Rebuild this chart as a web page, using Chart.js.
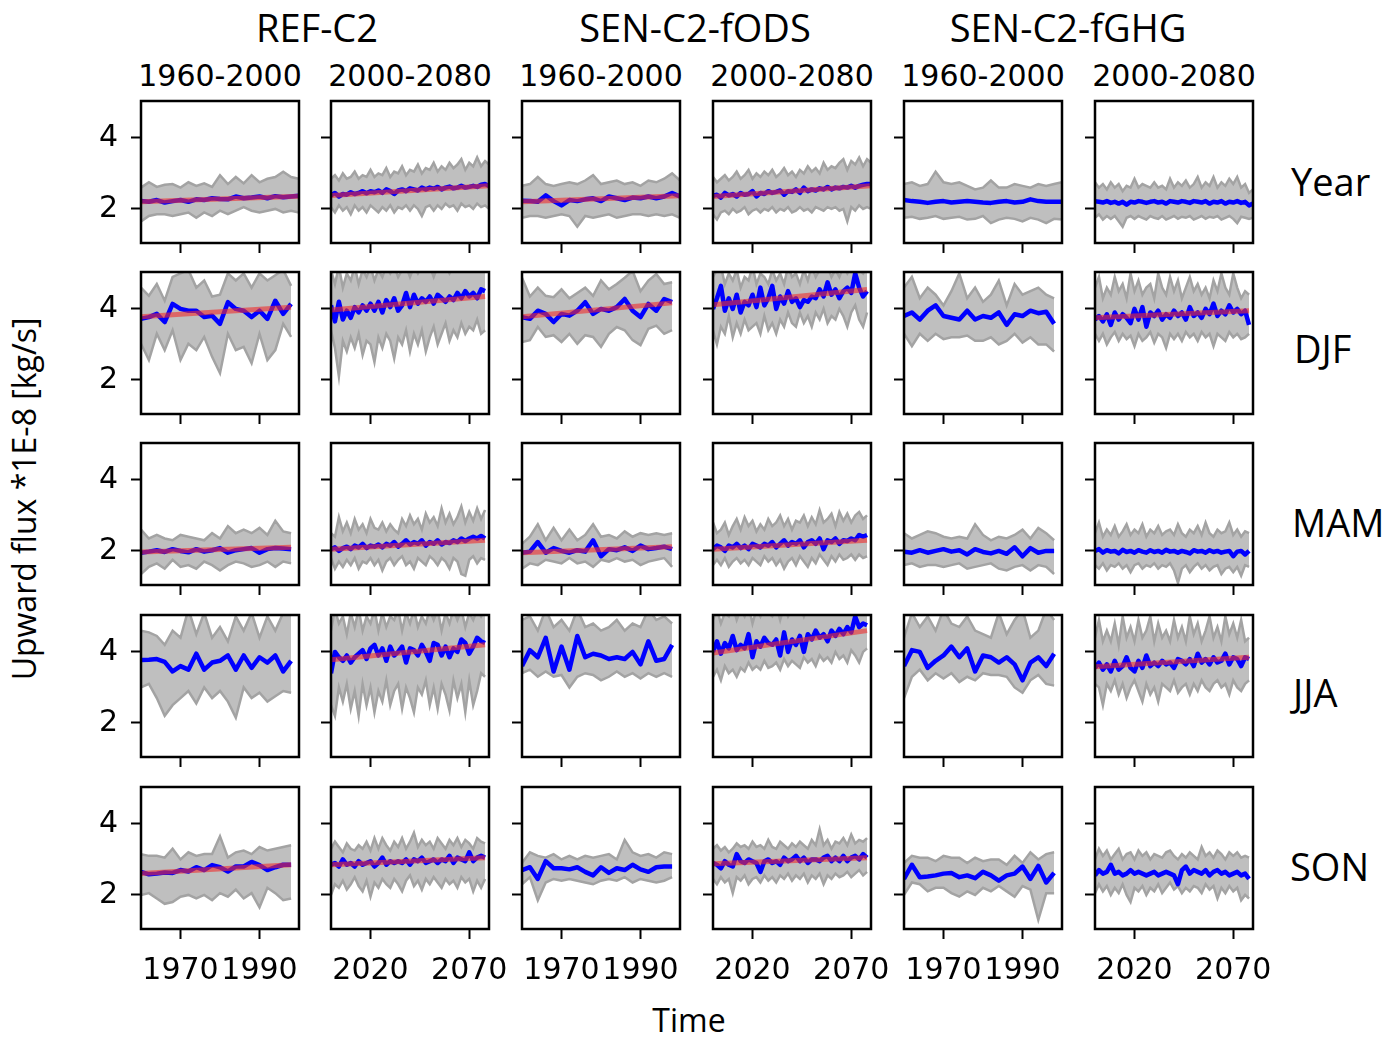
<!DOCTYPE html>
<html>
<head>
<meta charset="utf-8">
<script src="https://cdn.jsdelivr.net/npm/chart.js@4.4.1/dist/chart.umd.min.js"></script>
<style>
    body { margin: 0; width: 1399px; height: 1039px; background: #fff; position: relative; overflow: hidden; }
    canvas { position: absolute; }
    .lbl { position: absolute; white-space: nowrap; color: #000; line-height: 1; font-family: 'Open Sans', sans-serif; }
    .grp { font-size: 38px; transform: translate(-50%, -50%); }
    .per { font-family: 'DejaVu Sans', sans-serif; font-size: 30px; transform: translate(-50%, -50%); }
    .row { font-size: 38px; transform: translateY(-50%); }
    .axis { font-size: 32px; transform: translate(-50%, -50%); }
</style>
</head>
<body>
<div class="lbl grp" style="left:317px; top:27px">REF-C2</div>
<div class="lbl grp" style="left:695px; top:27px">SEN-C2-fODS</div>
<div class="lbl grp" style="left:1068px; top:27px">SEN-C2-fGHG</div>
<div id="periods"></div>
<div class="lbl row" style="left:1291px; top:181px">Year</div>
<div class="lbl row" style="left:1294px; top:348px">DJF</div>
<div class="lbl row" style="left:1292px; top:522px">MAM</div>
<div class="lbl row" style="left:1293px; top:692px">JJA</div>
<div class="lbl row" style="left:1290px; top:866px">SON</div>
<div class="lbl axis" style="left:689px; top:1020px">Time</div>
<div class="lbl axis" style="left:24px; top:499px; transform: translate(-50%, -50%) rotate(-90deg)">Upward flux *1E-8 [kg/s]</div>

<script>
const periodLabels = ['1960-2000', '2000-2080'];
const yTicks = [2, 4];
const xTicksPast = [1970, 1990];
const xTicksFut = [2020, 2070];

const yearsPastAnn = [1960,1962,1964,1966,1968,1970,1972,1974,1976,1978,1980,1982,1984,1986,1988,1990,1992,1994,1996,1998,2000];
const yearsPastSeas = [1960,1962,1964,1966,1968,1970,1972,1974,1976,1978,1980,1982,1984,1986,1988,1990,1992,1994,1996,1998];
const yearsFutAnn = [2000,2002,2004,2006,2008,2010,2012,2014,2016,2018,2020,2022,2024,2026,2028,2030,2032,2034,2036,2038,2040,2042,2044,2046,2048,2050,2052,2054,2056,2058,2060,2062,2064,2066,2068,2070,2072,2074,2076,2078,2080];
const yearsFutSeas = [2000,2002,2004,2006,2008,2010,2012,2014,2016,2018,2020,2022,2024,2026,2028,2030,2032,2034,2036,2038,2040,2042,2044,2046,2048,2050,2052,2054,2056,2058,2060,2062,2064,2066,2068,2070,2072,2074,2076,2078];

// Year
const yearRefPastMean = [2.22,2.2,2.25,2.18,2.22,2.25,2.2,2.27,2.25,2.3,2.28,2.27,2.35,2.3,2.32,2.35,2.3,2.36,2.33,2.35,2.37];
const yearRefPastLo = [1.65,1.8,1.85,1.85,1.8,1.85,1.9,1.75,1.9,1.8,1.95,1.85,1.95,2.05,1.95,1.9,1.95,2.0,1.9,1.95,1.9];
const yearRefPastHi = [2.6,2.75,2.62,2.68,2.7,2.6,2.75,2.65,2.72,2.62,2.95,2.7,2.9,2.72,2.95,2.75,2.85,2.9,3.05,2.9,2.85];
const yearRefPastTrend = [2.2, 2.36];
const yearRefFutMean = [2.38,2.45,2.35,2.42,2.4,2.47,2.42,2.45,2.5,2.44,2.5,2.47,2.52,2.45,2.55,2.5,2.42,2.52,2.55,2.5,2.58,2.55,2.52,2.6,2.55,2.6,2.57,2.62,2.55,2.6,2.63,2.58,2.6,2.65,2.6,2.62,2.65,2.62,2.68,2.7,2.65];
const yearRefFutLo = [2.05,1.9,2.1,1.95,2.05,1.85,2.1,1.95,2.05,1.9,2.1,2.0,1.9,2.05,1.95,2.1,1.9,2.05,2.0,2.1,1.95,2.1,2.0,1.8,2.05,2.1,1.95,2.1,2.0,2.15,2.05,2.1,1.95,2.15,2.05,2.1,2.0,2.15,2.05,2.1,2.0];
const yearRefFutHi = [2.85,2.95,2.8,3.0,2.85,2.9,3.05,2.85,2.95,2.9,3.1,2.9,3.0,2.95,3.15,2.9,3.05,3.0,3.2,2.95,3.1,3.05,3.25,3.0,3.15,3.1,3.3,3.05,3.2,3.1,3.3,3.15,3.25,3.4,3.1,3.3,3.2,3.45,3.2,3.35,3.25];
const yearRefFutTrend = [2.38, 2.65];
const yearFodsPastMean = [2.23,2.22,2.2,2.38,2.22,2.1,2.25,2.22,2.27,2.3,2.22,2.35,2.3,2.25,2.32,2.3,2.35,2.3,2.35,2.45,2.35];
const yearFodsPastLo = [1.75,1.8,1.8,1.75,1.8,1.85,1.8,1.5,1.8,1.75,1.8,1.85,1.75,1.8,1.85,1.85,1.8,1.85,1.8,1.85,1.75];
const yearFodsPastHi = [2.65,2.7,2.9,2.7,2.65,2.7,2.75,2.7,2.8,2.95,2.7,2.75,2.8,2.7,2.75,2.65,2.8,2.75,2.85,3.0,2.8];
const yearFodsPastTrend = [2.2, 2.37];
const yearFodsFutMean = [2.37,2.4,2.32,2.45,2.38,2.42,2.35,2.45,2.4,2.42,2.5,2.35,2.45,2.42,2.5,2.45,2.48,2.52,2.4,2.5,2.48,2.55,2.45,2.6,2.5,2.55,2.52,2.58,2.55,2.62,2.55,2.6,2.58,2.62,2.6,2.65,2.6,2.65,2.68,2.7,2.7];
const yearFodsFutLo = [1.85,1.7,1.9,1.95,1.85,2.0,1.9,1.95,2.05,1.85,1.95,2.0,1.9,2.0,1.95,2.05,1.9,2.0,1.95,2.05,1.9,1.95,2.05,1.95,2.0,1.9,2.05,2.0,1.95,2.05,2.0,2.05,1.95,2.0,1.65,2.05,1.95,2.1,2.0,2.05,2.0];
const yearFodsFutHi = [2.9,2.75,2.85,2.95,2.8,2.9,3.05,2.85,2.95,3.1,2.85,3.0,2.9,3.05,2.95,3.1,2.9,3.0,3.15,2.95,3.05,2.9,3.1,3.0,3.2,3.05,3.15,3.0,3.3,3.1,3.2,3.15,3.3,3.4,3.1,3.35,3.25,3.45,3.2,3.4,3.3];
const yearFodsFutTrend = [2.35, 2.65];
const yearFghgPastMean = [2.25,2.22,2.2,2.17,2.2,2.22,2.18,2.2,2.22,2.2,2.18,2.17,2.2,2.22,2.18,2.2,2.27,2.22,2.2,2.2,2.2];
const yearFghgPastLo = [1.75,1.78,1.72,1.75,1.8,1.72,1.75,1.78,1.7,1.72,1.8,1.6,1.7,1.75,1.72,1.65,1.75,1.7,1.6,1.72,1.7];
const yearFghgPastHi = [2.7,2.75,2.65,2.7,3.05,2.75,2.7,2.75,2.65,2.55,2.6,2.8,2.6,2.6,2.7,2.65,2.6,2.7,2.65,2.7,2.75];
const yearFghgFutMean = [2.22,2.2,2.18,2.22,2.17,2.2,2.15,2.2,2.12,2.2,2.18,2.22,2.2,2.17,2.2,2.22,2.18,2.2,2.15,2.22,2.2,2.18,2.22,2.2,2.17,2.22,2.2,2.18,2.22,2.15,2.2,2.18,2.22,2.15,2.2,2.18,2.22,2.17,2.2,2.1,2.15];
const yearFghgFutLo = [1.75,1.85,1.7,1.8,1.72,1.8,1.65,1.5,1.75,1.8,1.72,1.8,1.75,1.7,1.8,1.75,1.72,1.8,1.7,1.75,1.8,1.72,1.78,1.75,1.8,1.7,1.75,1.8,1.72,1.78,1.75,1.8,1.7,1.75,1.8,1.72,1.6,1.78,1.75,1.72,1.75];
const yearFghgFutHi = [2.75,2.6,2.7,2.55,2.75,2.6,2.7,2.5,2.65,2.6,2.85,2.6,2.7,2.65,2.6,2.75,2.6,2.65,2.55,2.85,2.6,2.75,2.65,2.8,2.6,2.7,2.9,2.6,2.75,2.65,2.9,2.6,2.75,2.65,2.85,2.7,2.9,2.6,2.7,2.45,2.55];

// DJF
const djfRefPastMean = [3.72,3.77,3.86,3.63,4.14,4.0,3.95,3.95,3.77,3.81,3.58,4.19,4.0,3.95,3.77,3.95,3.72,4.23,3.86,4.14];
const djfRefPastLo = [3.02,2.56,3.3,2.84,3.4,2.56,3.02,2.84,3.21,2.65,2.19,3.3,2.84,2.93,2.47,3.3,2.56,2.84,3.58,3.21];
const djfRefPastHi = [4.6,4.37,4.7,4.23,4.9,5.0,5.1,4.6,4.8,4.35,4.4,5.0,4.8,5.0,4.6,5.0,4.8,4.95,5.1,4.65];
const djfRefPastTrend = [3.78, 4.05];
const djfRefFutMean = [4.1,3.65,4.2,3.7,3.95,3.75,4.05,3.9,4.1,3.95,4.15,3.95,4.2,3.9,4.25,4.05,4.3,3.95,4.1,4.45,4.05,4.4,4.15,4.3,4.2,4.35,4.15,4.4,4.3,4.2,4.35,4.25,4.45,4.3,4.5,4.35,4.45,4.3,4.55,4.5];
const djfRefFutLo = [3.4,2.9,2.1,3.1,2.8,3.2,2.9,3.3,2.7,3.1,3.0,2.5,3.2,2.9,3.3,3.1,2.6,3.2,3.0,3.4,2.8,3.3,3.0,3.4,2.8,3.2,3.5,3.0,3.3,3.6,3.1,3.4,3.2,3.6,3.3,3.5,3.4,3.7,3.3,3.4];
const djfRefFutHi = [5.1,4.7,5.2,4.6,5.0,4.8,5.2,4.7,5.1,4.9,5.2,4.8,5.1,4.9,5.2,5.0,5.2,4.9,5.1,5.2,4.9,5.2,5.0,5.2,5.1,5.2,4.9,5.2,5.1,5.2,5.0,5.2,5.1,5.2,5.2,5.1,5.2,5.2,5.1,5.2];
const djfRefFutTrend = [3.97, 4.35];
const djfFodsPastMean = [3.77,3.72,3.95,3.86,3.63,3.86,3.81,3.95,4.19,3.86,4.0,3.95,4.05,4.28,3.95,3.77,4.14,3.95,4.28,4.19];
const djfFodsPastLo = [3.07,3.12,3.49,3.21,3.26,3.07,3.3,3.02,3.26,3.21,2.93,3.3,3.49,3.4,3.12,2.98,3.44,3.53,3.3,3.4];
const djfFodsPastHi = [4.88,4.35,4.6,4.37,4.33,4.55,4.3,4.45,4.6,4.37,4.8,4.55,4.7,4.88,5.07,4.5,4.8,4.98,4.7,4.75];
const djfFodsPastTrend = [3.78, 4.17];
const djfFodsFutMean = [4.0,4.3,4.65,3.95,4.3,4.0,4.4,3.9,4.2,4.1,4.4,4.05,4.6,4.1,4.3,4.65,4.0,4.35,4.15,4.5,4.2,4.3,4.05,4.25,4.2,4.35,4.3,4.55,4.35,4.75,4.4,4.55,4.3,4.5,4.6,4.45,5.0,4.6,4.35,4.5];
const djfFodsFutLo = [3.4,3.0,3.5,3.3,3.8,3.2,3.6,3.3,3.7,3.4,3.5,3.6,3.3,3.8,3.4,3.6,3.3,3.7,3.5,3.9,3.6,3.5,3.9,3.6,3.8,3.5,3.9,3.7,4.0,3.6,3.8,3.7,4.0,3.8,3.5,3.9,4.1,3.7,3.5,3.9];
const djfFodsFutHi = [4.9,5.1,5.2,4.7,5.0,4.8,5.1,4.6,4.9,4.8,5.2,4.7,5.0,4.9,4.7,5.1,4.8,5.0,4.7,5.2,4.9,5.0,4.7,5.1,4.8,5.2,4.9,5.1,5.2,5.2,4.9,5.1,4.9,5.2,5.0,5.2,5.3,5.1,5.0,5.2];
const djfFodsFutTrend = [4.12, 4.55];
const djfFghgPastMean = [3.8,3.9,3.7,3.95,4.1,3.8,3.75,3.7,3.95,3.7,3.8,3.75,3.9,3.55,3.85,3.8,3.95,3.88,3.92,3.58];
const djfFghgPastLo = [3.3,2.95,3.3,3.1,3.3,3.15,3.2,3.2,3.25,3.1,3.1,3.2,3.0,3.1,3.3,3.05,3.2,3.0,3.0,2.8];
const djfFghgPastHi = [4.6,4.9,4.3,4.6,4.4,4.1,4.5,5.0,4.3,4.6,4.2,4.4,4.8,4.1,4.7,4.4,4.5,4.6,4.4,4.3];
const djfFghgFutMean = [3.7,3.8,3.65,3.85,3.55,3.9,3.7,3.85,3.75,3.6,4.0,3.7,4.05,3.5,3.9,3.8,3.95,3.7,3.85,3.75,3.95,3.8,3.9,3.7,4.05,3.8,3.9,3.75,4.0,3.85,4.15,3.8,3.95,3.85,4.1,3.9,4.0,3.85,3.95,3.55];
const djfFghgFutLo = [3.3,3.1,3.3,3.0,3.2,3.35,3.1,3.3,3.15,3.25,2.95,3.3,3.1,3.2,3.35,3.05,3.3,3.2,2.9,3.3,3.15,3.3,3.1,3.35,3.2,3.3,3.1,3.35,3.2,3.3,2.95,3.3,3.2,3.1,3.35,3.2,3.3,3.15,3.2,3.3];
const djfFghgFutHi = [4.6,4.9,4.3,4.6,4.4,4.9,4.5,4.7,4.3,5.0,4.5,4.8,4.4,4.6,4.7,4.3,5.0,4.6,4.4,4.9,4.5,4.8,4.3,4.6,4.9,4.5,4.7,4.4,4.6,4.3,4.8,4.5,5.0,4.6,4.4,5.0,4.6,4.3,4.5,4.4];
const djfFghgFutTrend = [3.75, 3.95];

// MAM
const mamRefPastMean = [1.95,1.98,2.02,1.97,2.05,2.0,1.96,2.05,1.98,2.02,2.08,1.95,2.02,2.05,2.08,1.95,2.05,2.08,2.07,2.05];
const mamRefPastLo = [1.35,1.55,1.65,1.5,1.75,1.55,1.6,1.5,1.7,1.6,1.45,1.6,1.7,1.65,1.55,1.6,1.7,1.55,1.7,1.65];
const mamRefPastHi = [2.6,2.35,2.45,2.35,2.3,2.45,2.4,2.35,2.3,2.5,2.35,2.7,2.5,2.6,2.5,2.65,2.45,2.85,2.55,2.5];
const mamRefPastTrend = [1.97, 2.1];
const mamRefFutMean = [2.05,2.1,2.0,2.08,2.12,2.05,2.15,2.1,2.2,2.08,2.15,2.12,2.18,2.1,2.2,2.15,2.25,2.12,2.2,2.3,2.18,2.25,2.2,2.3,2.15,2.25,2.2,2.3,2.18,2.25,2.22,2.3,2.25,2.35,2.28,2.35,2.4,2.35,2.42,2.35];
const mamRefFutLo = [1.8,1.5,1.7,1.55,1.75,1.6,1.8,1.5,1.7,1.65,1.8,1.6,1.75,1.45,1.7,1.8,1.6,1.75,1.85,1.6,1.7,1.5,1.8,1.7,1.6,1.85,1.75,1.6,1.8,1.7,1.5,1.8,1.7,1.35,1.3,1.75,1.85,1.65,1.8,1.75];
const mamRefFutHi = [2.5,2.4,2.95,2.55,2.8,2.5,2.9,2.6,2.75,2.5,2.9,2.65,2.6,2.8,2.55,2.75,2.6,2.5,2.9,2.7,3.0,2.75,2.9,2.6,3.05,2.8,2.95,2.7,3.2,2.8,3.05,2.75,2.95,3.25,2.8,3.1,2.85,3.2,2.9,3.15];
const mamRefFutTrend = [2.05, 2.3];
const mamFodsPastMean = [1.95,1.98,2.25,1.95,2.08,2.0,1.95,2.02,1.98,2.3,1.85,2.05,2.02,2.1,2.0,2.15,2.05,2.08,2.12,2.05];
const mamFodsPastLo = [1.5,1.65,1.6,1.75,1.7,1.65,1.8,1.65,1.7,1.55,1.75,1.7,1.8,1.7,1.75,1.6,1.7,1.75,1.8,1.55];
const mamFodsPastHi = [2.2,2.4,2.75,2.3,2.65,2.3,2.6,2.3,2.45,2.75,2.4,2.45,2.35,2.55,2.4,2.5,2.45,2.5,2.45,2.5];
const mamFodsPastTrend = [1.95, 2.12];
const mamFodsFutMean = [2.05,2.15,2.1,2.0,2.15,2.1,2.2,2.08,2.15,2.05,2.2,2.15,2.1,2.2,2.15,2.25,2.1,2.2,2.3,2.15,2.25,2.2,2.3,2.1,2.25,2.3,2.2,2.35,2.05,2.3,2.25,2.35,2.2,2.3,2.28,2.35,2.3,2.45,2.4,2.45];
const mamFodsFutLo = [1.6,1.75,1.6,1.8,1.55,1.7,1.8,1.65,1.75,1.6,1.8,1.7,1.6,1.85,1.7,1.8,1.6,1.75,1.5,1.7,1.8,1.6,1.85,1.7,1.55,1.8,1.65,1.9,1.75,1.6,1.85,1.7,1.9,1.75,1.8,1.9,1.75,1.9,1.8,1.85];
const mamFodsFutHi = [2.8,2.5,2.6,2.8,2.45,2.7,2.9,2.6,2.95,2.7,2.85,2.55,2.75,2.6,2.9,2.7,2.8,3.0,2.7,2.9,2.6,2.85,2.8,3.0,2.7,2.95,2.75,3.15,2.8,2.9,3.05,2.7,3.1,2.85,3.05,2.8,3.0,3.1,2.9,3.0];
const mamFodsFutTrend = [2.05, 2.3];
const mamFghgPastMean = [1.98,1.95,2.02,1.95,2.0,2.05,1.98,2.02,1.9,2.05,1.97,1.93,2.0,1.92,2.1,1.85,2.08,1.95,2.0,2.0];
const mamFghgPastLo = [1.6,1.65,1.55,1.6,1.6,1.55,1.6,1.65,1.5,1.55,1.6,1.65,1.5,1.45,1.55,1.6,1.45,1.6,1.55,1.35];
const mamFghgPastHi = [2.5,2.35,2.45,2.55,2.5,2.4,2.35,2.4,2.35,2.75,2.45,2.3,2.4,2.35,2.45,2.6,2.35,2.65,2.5,2.3];
const mamFghgFutMean = [2.0,2.05,1.95,2.02,1.98,2.0,1.93,2.03,1.97,2.0,1.95,2.02,1.98,1.95,2.02,1.97,2.0,1.95,2.03,1.98,2.0,1.95,2.0,1.97,1.93,2.02,1.98,2.0,1.95,2.02,1.97,2.0,1.95,1.98,2.0,1.85,1.98,2.0,1.9,2.0];
const mamFghgFutLo = [1.6,1.5,1.65,1.45,1.6,1.55,1.65,1.5,1.6,1.4,1.6,1.65,1.5,1.6,1.55,1.65,1.5,1.6,1.55,1.65,1.45,1.1,1.5,1.6,1.4,1.55,1.65,1.5,1.6,1.45,1.55,1.6,1.35,1.5,1.55,1.4,1.55,1.3,1.6,1.55];
const mamFghgFutHi = [2.5,2.8,2.4,2.6,2.45,2.7,2.4,2.55,2.75,2.45,2.6,2.5,2.75,2.4,2.6,2.5,2.7,2.45,2.55,2.6,2.45,2.75,2.5,2.4,2.6,2.5,2.7,2.45,2.8,2.5,2.4,2.6,2.5,2.55,2.8,2.45,2.6,2.4,2.55,2.5];

// JJA
const jjaRefPastMean = [3.77,3.78,3.8,3.72,3.45,3.6,3.5,3.95,3.5,3.7,3.75,3.9,3.5,3.9,3.55,3.85,3.7,3.9,3.45,3.75];
const jjaRefPastLo = [3.0,3.1,2.7,2.2,2.5,2.7,2.9,2.55,3.0,2.7,2.9,2.6,2.15,3.0,2.7,2.85,2.6,2.75,2.9,2.85];
const jjaRefPastHi = [4.6,4.55,4.45,4.2,4.6,4.4,5.2,4.5,5.1,4.4,4.7,4.3,5.0,4.6,5.1,4.4,5.0,4.6,5.1,5.1];
const jjaRefFutMean = [3.4,4.0,3.85,3.75,3.9,3.7,3.85,3.95,4.05,3.8,4.1,4.2,3.9,4.1,3.75,4.15,3.9,4.0,4.15,3.7,4.1,4.05,3.9,4.2,4.0,3.75,4.25,4.2,3.9,4.15,3.85,4.1,4.0,4.35,4.25,3.95,4.15,4.4,4.3,4.25];
const jjaRefFutLo = [2.5,2.2,3.0,2.6,3.1,2.4,2.9,2.2,3.1,2.5,3.0,2.3,2.9,2.6,3.2,2.5,2.9,3.1,2.4,3.0,2.7,2.3,3.0,2.8,3.2,2.5,3.0,2.4,3.1,2.8,2.35,3.2,2.7,3.1,2.3,3.2,2.5,2.9,3.4,3.3];
const jjaRefFutHi = [4.6,5.2,4.8,5.0,4.5,5.1,4.7,5.2,4.6,5.0,4.8,5.2,4.6,5.1,4.7,5.0,4.9,5.2,4.6,5.1,4.8,5.2,4.7,5.0,4.8,5.2,4.9,5.2,4.6,5.1,4.8,5.2,4.9,5.2,4.7,5.1,4.9,5.2,5.0,5.2];
const jjaRefFutTrend = [3.78, 4.2];
const jjaFodsPastMean = [3.6,4.05,3.85,4.4,3.45,4.15,3.5,4.45,3.85,3.95,3.9,3.8,3.85,3.8,4.0,3.65,4.3,3.75,3.8,4.2];
const jjaFodsPastLo = [3.4,3.5,3.3,3.45,3.3,3.35,3.0,3.3,3.4,3.35,3.2,3.3,3.45,3.3,3.4,3.25,3.4,3.3,3.4,3.3];
const jjaFodsPastHi = [4.9,5.0,4.6,5.2,4.7,4.9,4.6,5.2,4.7,4.8,4.6,4.7,4.9,4.6,4.8,4.7,5.2,4.9,5.0,4.8];
const jjaFodsFutMean = [4.0,4.3,3.95,4.25,4.1,4.45,4.05,4.2,4.1,4.5,3.85,4.3,4.15,4.4,4.25,4.2,4.35,3.9,4.55,4.0,4.35,4.2,4.45,4.0,4.5,4.35,4.6,4.4,4.5,4.3,4.6,4.45,4.65,4.5,4.7,4.55,5.0,4.7,4.8,4.75];
const jjaFodsFutLo = [3.3,3.5,3.2,3.6,3.4,3.5,3.3,3.55,3.45,3.7,3.5,3.6,3.5,3.75,3.55,3.6,3.7,3.5,3.8,3.6,3.75,3.65,3.55,3.85,3.7,3.8,3.6,3.9,3.75,3.85,3.7,4.0,3.8,3.9,3.7,4.05,3.9,3.7,4.0,4.1];
const jjaFodsFutHi = [4.9,5.2,4.8,5.1,5.0,5.3,4.9,5.2,5.0,5.3,4.8,5.2,5.0,5.3,5.1,5.0,5.3,4.9,5.3,5.0,5.2,5.1,5.3,5.0,5.3,5.2,5.3,5.2,5.3,5.1,5.3,5.2,5.3,5.3,5.3,5.2,5.4,5.3,5.3,5.3];
const jjaFodsFutTrend = [3.97, 4.6];
const jjaFghgPastMean = [3.6,4.05,4.0,3.55,3.75,3.9,4.15,3.85,4.1,3.45,3.9,3.85,3.7,3.85,3.65,3.2,3.7,3.85,3.6,3.95];
const jjaFghgPastLo = [2.7,3.3,3.5,3.2,3.4,3.25,3.4,3.15,3.3,3.2,3.4,3.35,3.35,3.3,3.0,2.85,3.2,3.35,3.1,3.05];
const jjaFghgPastHi = [4.4,5.1,4.7,5.0,4.6,5.2,4.8,4.7,5.0,4.6,4.5,4.4,5.1,4.5,4.9,5.2,4.4,4.6,5.2,4.9];
const jjaFghgFutMean = [3.55,3.7,3.5,3.65,3.45,3.75,3.5,3.6,3.85,3.55,3.45,3.75,3.55,3.9,3.6,3.7,3.6,3.75,3.65,3.7,3.55,3.8,3.75,3.65,3.8,3.6,3.95,3.7,3.8,3.65,3.85,3.7,3.75,3.95,3.65,3.85,3.8,3.6,3.85,3.8];
const jjaFghgFutLo = [3.1,3.0,2.5,3.1,2.9,3.2,2.8,3.1,2.7,3.0,3.2,2.9,2.6,3.1,2.8,3.0,2.6,3.1,3.0,2.9,3.2,2.85,3.0,3.1,2.8,3.1,2.9,3.2,3.0,2.9,3.1,3.2,3.0,3.1,2.8,3.2,3.0,2.9,3.1,3.2];
const jjaFghgFutHi = [4.4,4.9,4.3,4.6,4.3,4.8,4.2,5.0,4.4,4.7,4.3,4.9,4.4,4.6,5.0,4.3,4.8,4.4,4.6,4.3,4.9,4.4,4.7,4.3,5.0,4.5,4.8,4.3,4.6,5.0,4.4,4.7,4.3,5.0,4.5,4.8,4.4,4.9,4.3,4.4];
const jjaFghgFutTrend = [3.58, 3.85];

// SON
const sonRefPastMean = [2.65,2.58,2.6,2.63,2.62,2.7,2.66,2.78,2.7,2.84,2.78,2.66,2.8,2.8,2.93,2.84,2.7,2.78,2.85,2.85];
const sonRefPastLo = [2.0,2.05,1.9,1.75,1.8,1.95,2.0,1.9,2.0,1.85,2.05,1.95,2.15,1.9,2.05,1.65,2.2,2.05,1.85,1.9];
const sonRefPastHi = [3.15,3.1,3.1,3.05,3.3,3.0,3.2,3.1,3.15,3.15,3.65,3.05,3.2,3.25,3.15,3.35,3.25,3.3,3.35,3.4];
const sonRefPastTrend = [2.6, 2.85];
const sonRefFutMean = [2.85,2.9,2.8,3.0,2.85,2.9,2.8,2.95,2.85,2.9,2.95,2.8,2.9,3.05,2.85,2.95,2.9,2.95,2.9,3.0,2.85,3.0,2.95,3.05,2.9,2.95,3.0,2.9,3.0,2.95,3.1,2.9,3.05,3.0,2.95,3.2,2.95,3.05,3.1,3.05];
const sonRefFutLo = [2.0,2.3,2.2,2.4,2.15,2.3,2.5,2.25,2.1,2.4,1.95,2.35,2.2,2.45,2.3,2.2,2.45,2.3,2.1,2.4,2.55,2.25,2.4,2.15,2.45,2.3,2.5,2.35,2.2,2.45,2.3,2.4,2.2,2.5,2.35,2.45,2.1,2.4,2.2,2.45];
const sonRefFutHi = [3.3,3.5,3.35,3.2,3.45,3.3,3.25,3.4,3.3,3.5,3.25,3.6,3.3,3.6,3.4,3.25,3.5,3.35,3.6,3.3,3.5,3.75,3.35,3.55,3.4,3.5,3.3,3.6,3.45,3.3,3.55,3.4,3.6,3.35,3.55,3.45,3.3,3.6,3.5,3.45];
const sonRefFutTrend = [2.85, 3.05];
const sonFodsPastMean = [2.7,2.78,2.45,2.95,2.75,2.75,2.72,2.78,2.65,2.55,2.78,2.62,2.75,2.7,2.85,2.72,2.65,2.78,2.8,2.8];
const sonFodsPastLo = [2.3,2.5,1.85,2.35,2.45,2.4,2.45,2.4,2.35,2.3,2.4,2.45,2.4,2.5,2.35,2.45,2.4,2.35,2.4,2.5];
const sonFodsPastHi = [2.9,3.2,3.1,3.05,3.15,3.0,3.1,3.0,3.1,3.05,3.1,3.15,3.0,3.55,3.2,3.1,3.15,3.05,3.2,3.15];
const sonFodsFutMean = [2.9,2.85,2.75,2.95,2.85,2.8,3.15,2.95,2.9,3.0,2.95,2.9,2.65,2.95,3.0,2.9,2.95,2.85,3.05,2.95,3.0,3.1,2.95,3.05,2.9,3.0,3.0,2.95,3.05,3.1,2.95,3.05,2.95,3.1,2.95,3.05,3.1,3.0,3.15,3.05];
const sonFodsFutLo = [2.45,2.3,2.5,2.35,2.45,2.05,2.5,2.4,2.55,2.3,2.45,2.5,2.35,2.55,2.4,2.5,2.35,2.55,2.45,2.6,2.4,2.55,2.45,2.6,2.35,2.55,2.45,2.6,2.3,2.55,2.45,2.6,2.5,2.55,2.65,2.5,2.6,2.7,2.55,2.65];
const sonFodsFutHi = [3.3,3.4,3.25,3.35,3.2,3.3,3.45,3.35,3.4,3.3,3.5,3.35,3.4,3.3,3.55,3.35,3.3,3.5,3.4,3.3,3.45,3.35,3.5,3.4,3.3,3.55,3.4,3.85,3.4,3.55,3.3,3.5,3.45,3.6,3.4,3.7,3.45,3.55,3.5,3.6];
const sonFodsFutTrend = [2.88, 3.05];
const sonFghgPastMean = [2.45,2.85,2.5,2.52,2.55,2.6,2.62,2.5,2.55,2.47,2.65,2.55,2.4,2.55,2.6,2.8,2.45,2.82,2.35,2.62];
const sonFghgPastLo = [2.0,2.35,2.3,2.1,2.2,2.2,2.05,1.95,2.1,2.0,2.2,2.1,2.25,2.1,1.95,2.25,2.15,1.3,2.05,2.05];
const sonFghgPastHi = [2.9,3.1,3.05,3.05,2.95,3.1,3.05,3.05,2.9,3.05,2.95,3.0,3.0,2.85,3.1,2.9,3.2,3.0,3.15,3.2];
const sonFghgFutMean = [2.55,2.7,2.6,2.65,2.85,2.6,2.65,2.55,2.6,2.7,2.6,2.65,2.6,2.55,2.6,2.65,2.55,2.6,2.65,2.6,2.55,2.3,2.7,2.8,2.6,2.7,2.65,2.6,2.7,2.55,2.65,2.7,2.6,2.65,2.55,2.6,2.65,2.55,2.6,2.45];
const sonFghgFutLo = [2.05,2.3,2.1,2.25,2.0,2.2,2.05,2.3,2.0,1.8,2.2,2.1,2.25,2.0,2.2,2.1,2.3,2.05,2.2,2.35,2.15,2.25,2.05,2.2,2.1,2.25,2.2,2.05,2.3,2.15,2.25,1.9,2.2,2.05,2.25,2.1,2.2,1.85,2.0,1.9];
const sonFghgFutHi = [3.0,3.3,3.1,3.25,3.0,3.15,3.3,3.0,3.15,3.2,3.0,3.25,3.1,3.2,3.0,3.15,3.1,3.05,3.2,3.25,3.1,3.0,3.15,3.05,3.2,3.1,3.0,3.35,3.1,3.2,3.05,3.25,3.15,3.0,3.2,3.1,3.2,3.05,3.1,3.05];

// one entry per panel: [mean, lo, hi, trend]
const grid = [
    [[yearRefPastMean, yearRefPastLo, yearRefPastHi, yearRefPastTrend], [yearRefFutMean, yearRefFutLo, yearRefFutHi, yearRefFutTrend],
     [yearFodsPastMean, yearFodsPastLo, yearFodsPastHi, yearFodsPastTrend], [yearFodsFutMean, yearFodsFutLo, yearFodsFutHi, yearFodsFutTrend],
     [yearFghgPastMean, yearFghgPastLo, yearFghgPastHi, null], [yearFghgFutMean, yearFghgFutLo, yearFghgFutHi, null]],
    [[djfRefPastMean, djfRefPastLo, djfRefPastHi, djfRefPastTrend], [djfRefFutMean, djfRefFutLo, djfRefFutHi, djfRefFutTrend],
     [djfFodsPastMean, djfFodsPastLo, djfFodsPastHi, djfFodsPastTrend], [djfFodsFutMean, djfFodsFutLo, djfFodsFutHi, djfFodsFutTrend],
     [djfFghgPastMean, djfFghgPastLo, djfFghgPastHi, null], [djfFghgFutMean, djfFghgFutLo, djfFghgFutHi, djfFghgFutTrend]],
    [[mamRefPastMean, mamRefPastLo, mamRefPastHi, mamRefPastTrend], [mamRefFutMean, mamRefFutLo, mamRefFutHi, mamRefFutTrend],
     [mamFodsPastMean, mamFodsPastLo, mamFodsPastHi, mamFodsPastTrend], [mamFodsFutMean, mamFodsFutLo, mamFodsFutHi, mamFodsFutTrend],
     [mamFghgPastMean, mamFghgPastLo, mamFghgPastHi, null], [mamFghgFutMean, mamFghgFutLo, mamFghgFutHi, null]],
    [[jjaRefPastMean, jjaRefPastLo, jjaRefPastHi, null], [jjaRefFutMean, jjaRefFutLo, jjaRefFutHi, jjaRefFutTrend],
     [jjaFodsPastMean, jjaFodsPastLo, jjaFodsPastHi, null], [jjaFodsFutMean, jjaFodsFutLo, jjaFodsFutHi, jjaFodsFutTrend],
     [jjaFghgPastMean, jjaFghgPastLo, jjaFghgPastHi, null], [jjaFghgFutMean, jjaFghgFutLo, jjaFghgFutHi, jjaFghgFutTrend]],
    [[sonRefPastMean, sonRefPastLo, sonRefPastHi, sonRefPastTrend], [sonRefFutMean, sonRefFutLo, sonRefFutHi, sonRefFutTrend],
     [sonFodsPastMean, sonFodsPastLo, sonFodsPastHi, null], [sonFodsFutMean, sonFodsFutLo, sonFodsFutHi, sonFodsFutTrend],
     [sonFghgPastMean, sonFghgPastLo, sonFghgPastHi, null], [sonFghgFutMean, sonFghgFutLo, sonFghgFutHi, null]],
];

const colLeft = [141, 331, 522, 713, 904, 1095];
const rowTop = [101, 272, 443, 615, 787];
const panelW = 158, panelH = 142;
const padL = 70, padR = 50, padT = 40, padB = 70;

const framePlugin = {
    id: 'frame',
    afterDraw(chart) {
        const { ctx, chartArea: a } = chart;
        ctx.save();
        ctx.strokeStyle = '#000';
        ctx.lineWidth = 2.5;
        ctx.strokeRect(a.left, a.top, a.right - a.left, a.bottom - a.top);
        ctx.restore();
    },
};

const periods = document.getElementById('periods');
colLeft.forEach((left, c) => {
    const d = document.createElement('div');
    d.className = 'lbl per';
    d.style.left = (left + panelW / 2) + 'px';
    d.style.top = '76px';
    d.textContent = periodLabels[c % 2];
    periods.appendChild(d);
});

const tickGrid = { display: true, drawOnChartArea: false, drawTicks: true, tickLength: 10, tickWidth: 2, tickColor: '#000' };
const tickFont = { family: 'DejaVu Sans', size: 30 };

grid.forEach((cells, r) => {
    cells.forEach(([mean, lo, hi, trend], c) => {
        const past = c % 2 === 0;
        const years = past ? (r === 0 ? yearsPastAnn : yearsPastSeas) : (r === 0 ? yearsFutAnn : yearsFutSeas);
        const xt = past ? xTicksPast : xTicksFut;
        const pts = (arr) => arr.map((v, i) => ({ x: years[i], y: v }));

        const canvas = document.createElement('canvas');
        canvas.width = padL + panelW + padR;
        canvas.height = padT + panelH + padB;
        canvas.style.left = (colLeft[c] - padL) + 'px';
        canvas.style.top = (rowTop[r] - padT) + 'px';
        document.body.appendChild(canvas);

        const datasets = [];
        if (trend) {
            datasets.push({
                data: [{ x: years[0], y: trend[0] }, { x: years[years.length - 1], y: trend[1] }],
                borderColor: 'rgba(240, 45, 45, 0.6)',
                borderWidth: 5,
                fill: false,
                clip: 0,
            });
        }
        datasets.push(
            { data: pts(mean), borderColor: '#0000ff', borderWidth: 4.5, fill: false, clip: 0, borderJoinStyle: 'round' },
            { data: pts(hi), borderColor: '#a3a3a3', borderWidth: 2.5, backgroundColor: '#bfbfbf', fill: '+1', clip: 0 },
            { data: pts(lo), borderColor: '#a3a3a3', borderWidth: 2.5, fill: false, clip: 0 },
        );

        new Chart(canvas, {
            type: 'line',
            data: { datasets },
            plugins: [framePlugin],
            options: {
                responsive: false,
                animation: false,
                events: [],
                layout: { padding: { left: 0, top: padT, right: padR, bottom: 0 } },
                elements: { point: { radius: 0 }, line: { tension: 0 } },
                plugins: {
                    legend: { display: false },
                    tooltip: { enabled: false },
                    filler: { drawTime: 'beforeDatasetsDraw', propagate: false },
                },
                scales: {
                    x: {
                        type: 'linear',
                        position: 'bottom',
                        min: past ? 1960 : 2000,
                        max: past ? 2000 : 2080,
                        afterFit: (s) => { s.height = padB; },
                        afterBuildTicks: (s) => { s.ticks = xt.map((v) => ({ value: v })); },
                        grid: tickGrid,
                        border: { display: false },
                        ticks: {
                            display: r === 4,
                            autoSkip: false,
                            maxRotation: 0,
                            font: tickFont,
                            color: '#000',
                            padding: 14,
                            callback: (v) => String(v),
                        },
                    },
                    y: {
                        position: 'left',
                        min: 1.04,
                        max: 5.04,
                        afterFit: (s) => { s.width = padL; },
                        afterBuildTicks: (s) => { s.ticks = yTicks.map((v) => ({ value: v })); },
                        grid: tickGrid,
                        border: { display: false },
                        ticks: {
                            display: c === 0,
                            font: tickFont,
                            color: '#000',
                            padding: 13,
                            callback: (v) => String(v),
                        },
                    },
                },
            },
        });
    });
});
</script>
</body>
</html>
